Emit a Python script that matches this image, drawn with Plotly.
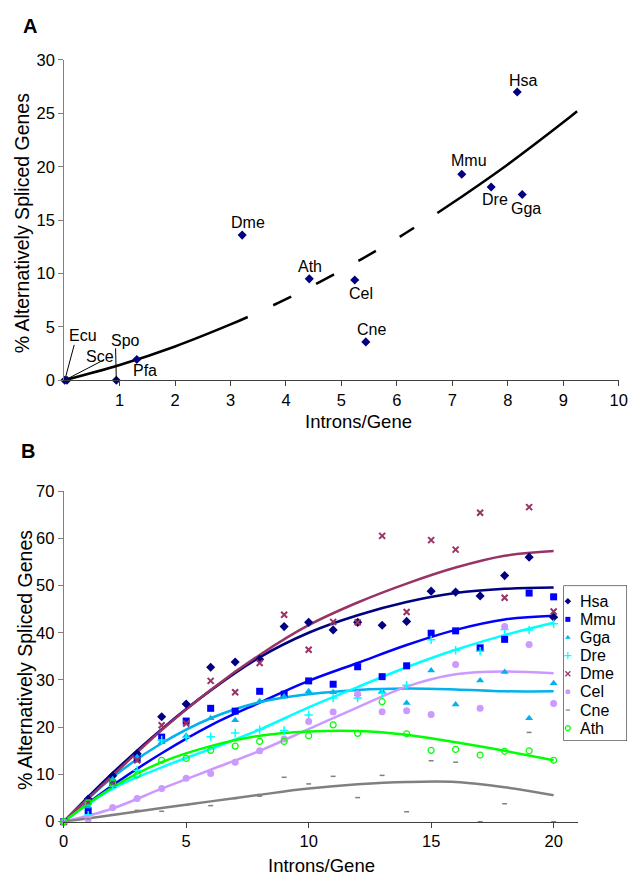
import plotly.graph_objects as go

# ---------------- Panel A: species scatter ----------------
species = ["Hsa", "Mmu", "Dre", "Gga", "Dme", "Ath", "Cel", "Cne", "Pfa", "Spo", "Sce", "Ecu"]
introns_per_gene = [8.17, 7.17, 7.70, 8.26, 3.21, 4.42, 5.24, 5.44, 1.31, 0.94, 0.05, 0.01]
pct_alt_spliced = [27.0, 19.3, 18.1, 17.4, 13.6, 9.5, 9.4, 3.6, 1.95, 0.0, 0.0, 0.0]

# trend curve of panel A, split into solid / dashed / solid parts
trend_a_solid1_x = [0, 1, 2, 3, 3.31]
trend_a_solid1_y = [0, 1.43, 3.17, 5.23, 5.93]
trend_a_dash_x = [3.77, 4, 5, 6, 6.31]
trend_a_dash_y = [7.03, 7.60, 10.29, 13.28, 14.28]
trend_a_solid2_x = [6.73, 7, 8, 9, 9.25]
trend_a_solid2_y = [15.67, 16.60, 20.22, 24.16, 25.2]

# ---------------- Panel B: by intron count ----------------
intron_count = list(range(21))
hsa = [0, 4.8, 9.7, 14.4, 22.2, 24.9, 32.7, 33.8, 34.4, 41.3, 42.2, 40.6, 42.2, 41.6, 42.4, 48.8, 48.6, 47.8, 52.1, 56.0, 43.3]
mmu = [0, 2.3, 8.0, 13.3, 17.9, 21.3, 24.0, 23.4, 27.6, 27.0, 29.8, 29.1, 32.8, 30.7, 33.0, 39.9, 40.4, 36.8, 38.6, 48.4, 47.6]
gga = [0, 3.2, 9.0, 13.7, 16.8, 18.2, 21.9, 21.5, 25.5, 26.5, 27.6, 27.4, 27.0, 27.6, 25.1, 32.0, 24.8, 29.9, 31.7, 21.9, 29.3]
dre = [0, 1.4, 7.5, 10.9, 17.3, 17.8, 18.0, 18.8, 19.5, 19.3, 22.6, 26.2, 26.2, 27.2, 28.9, 38.5, 36.3, 36.1, 40.7, 40.6, 41.9]
dme = [0, 4.2, 8.2, 13.0, 20.4, 20.8, 29.8, 27.4, 33.6, 43.8, 36.4, 42.3, 42.2, 60.5, 44.4, 59.6, 57.6, 65.4, 47.4, 66.6, 44.5]
cel = [0, 0.5, 3.0, 4.9, 7.0, 9.2, 10.2, 12.6, 15.0, 17.5, 21.2, 23.2, 27.1, 23.3, 23.5, 22.7, 33.3, 24.0, 41.3, 37.5, 25.0]
cne = [0, 0.6, 1.5, 2.4, 2.2, 3.5, 3.4, 4.9, 5.4, 9.4, 8.0, 9.6, 5.1, 9.8, 2.1, 12.9, 12.6, 0.0, 3.8, 18.9, 0.0]
ath = [0, 4.0, 8.2, 9.9, 13.0, 13.4, 15.1, 16.0, 17.0, 17.0, 18.2, 20.5, 18.7, 25.4, 18.6, 15.1, 15.3, 14.1, 14.9, 15.0, 13.0]

# trend curves of panel B
trend_x = [0, 2, 4, 6, 8, 10, 12, 14, 16, 18, 20]
hsa_fit = [0, 10.3, 19.6, 27.8, 34.8, 40.0, 43.7, 46.5, 48.4, 49.3, 49.6]
mmu_fit = [0, 7.7, 14.5, 20.4, 25.2, 29.8, 33.6, 37.4, 40.6, 42.8, 43.6]
gga_fit = [0, 9.4, 16.6, 21.9, 25.3, 27.0, 27.9, 28.2, 28.0, 27.6, 27.6]
dre_fit = [0, 7.0, 11.5, 15.4, 19.5, 24.2, 28.5, 32.7, 36.4, 39.5, 42.1]
dme_fit = [0, 9.8, 19.4, 27.9, 35.3, 41.6, 46.4, 50.4, 53.8, 56.3, 57.3]
cel_fit = [0, 2.8, 7.0, 11.0, 15.0, 19.6, 24.2, 28.6, 31.2, 31.8, 31.4]
cne_fit = [0, 1.4, 2.9, 4.3, 5.7, 7.0, 7.9, 8.4, 8.4, 7.3, 5.6]
ath_fit = [0, 7.3, 12.6, 16.0, 18.2, 19.1, 19.2, 18.4, 16.8, 15.0, 13.0]

series_names = ["Hsa", "Mmu", "Gga", "Dre", "Dme", "Cel", "Cne", "Ath"]
series_values = [hsa, mmu, gga, dre, dme, cel, cne, ath]
series_fits = [hsa_fit, mmu_fit, gga_fit, dre_fit, dme_fit, cel_fit, cne_fit, ath_fit]

# ---------------- styling ----------------
W, H = 637, 888
FONT = "Liberation Sans, Arial, Helvetica, sans-serif"
colors = ["#000080", "#0000FF", "#00B2EE", "#00FFFF", "#993366", "#CC99FF", "#808080", "#00FF00"]
symbols = ["diamond", "square", "triangle-up", "cross-thin-open", "x-thin-open",
           "circle", "line-ew-open", "circle-open"]
sizes = [7, 7, 7, 6, 6, 7, 3.5, 6]
marker_lw = [0, 0, 0, 1.5, 2, 0, 1.5, 1.2]


def dom_x(left, right):
    return [left / W, right / W]


def dom_y(top, bottom):
    return [1 - bottom / H, 1 - top / H]


fig = go.Figure()

# ---- panel A ----
line_a = dict(color="black", width=2.5, shape="spline")
fig.add_trace(go.Scatter(x=trend_a_solid1_x, y=trend_a_solid1_y, mode="lines", line=line_a,
                         xaxis="x", yaxis="y", showlegend=False, hoverinfo="skip"))
fig.add_trace(go.Scatter(x=trend_a_dash_x, y=trend_a_dash_y, mode="lines",
                         line=dict(color="black", width=2.5, shape="spline", dash="20px,28px"),
                         xaxis="x", yaxis="y", showlegend=False, hoverinfo="skip"))
fig.add_trace(go.Scatter(x=trend_a_solid2_x, y=trend_a_solid2_y, mode="lines", line=line_a,
                         xaxis="x", yaxis="y", showlegend=False, hoverinfo="skip"))
fig.add_trace(go.Scatter(x=introns_per_gene, y=pct_alt_spliced, mode="markers",
                         marker=dict(symbol="diamond", size=7, color="#000080"),
                         cliponaxis=False, xaxis="x", yaxis="y", showlegend=False,
                         text=species))

# ---- panel B: trend lines then markers ----
for name, fit, c in zip(series_names, series_fits, colors):
    fig.add_trace(go.Scatter(x=trend_x, y=fit, mode="lines",
                             line=dict(color=c, width=2.5, shape="spline", smoothing=1.0),
                             xaxis="x2", yaxis="y2", showlegend=False, hoverinfo="skip"))
for name, vals, c, s, sz, lw in zip(series_names, series_values, colors, symbols, sizes, marker_lw):
    fig.add_trace(go.Scatter(x=intron_count, y=vals, mode="markers", name=name,
                             marker=dict(symbol=s, size=sz, color=c, line=dict(color=c, width=lw)),
                             cliponaxis=False, xaxis="x2", yaxis="y2", showlegend=False))

# ---- legend box (own small axis in pixel units) ----
leg_left, leg_right, leg_top, leg_bottom = 571, 636, 588.5, 747
leg_first, leg_step = 604.5, 18.5
leg_y = [leg_first + i * leg_step for i in range(len(series_names))]
for i, (name, c, s, lw) in enumerate(zip(series_names, colors, symbols, marker_lw)):
    fig.add_trace(go.Scatter(x=[575.5], y=[leg_y[i]], mode="markers",
                             marker=dict(symbol=s, size=5 if s != "line-ew-open" else 3, color=c,
                                         line=dict(color=c, width=min(lw, 1.2))),
                             cliponaxis=False, xaxis="x3", yaxis="y3", showlegend=False,
                             hoverinfo="skip"))

annotations = []
for i, name in enumerate(series_names):
    annotations.append(dict(x=585.5, y=leg_y[i], xref="x3", yref="y3", text=name, showarrow=False,
                            xanchor="left", yanchor="middle",
                            font=dict(family=FONT, size=16, color="black")))

# ---- point labels of panel A (pixel offsets from each point) ----
label_shift = {
    "Hsa": (6, 11), "Mmu": (7, 14), "Dre": (4, -12), "Gga": (4, -14), "Dme": (6, 13),
    "Ath": (1, 12), "Cel": (6, -14), "Cne": (6, 12), "Pfa": (8, -11), "Spo": (9, 40),
    "Sce": (33, 24), "Ecu": (18, 45),
}
for sp, xv, yv in zip(species, introns_per_gene, pct_alt_spliced):
    dx, dy = label_shift[sp]
    annotations.append(dict(x=xv, y=yv, xref="x", yref="y", text=sp, showarrow=False,
                            xshift=dx, yshift=dy, xanchor="center", yanchor="middle",
                            font=dict(family=FONT, size=16, color="black")))

# leader lines for the crowded labels near the origin
leaders = {"Ecu": (0, 0, 9.5, 35.5), "Sce": (0.5, 1.5, 37, 20.5), "Spo": (0, 0, -0.7, 32)}
shapes = []
for sp, (px0, py0, px1, py1) in leaders.items():
    k = species.index(sp)
    shapes.append(dict(type="line", xref="x", yref="y", xsizemode="pixel", ysizemode="pixel",
                       xanchor=introns_per_gene[k], yanchor=pct_alt_spliced[k],
                       x0=px0, y0=py0, x1=px1, y1=py1, line=dict(color="black", width=1)))

shapes.append(dict(type="rect", xref="x3", yref="y3", x0=leg_left, x1=leg_right,
                   y0=leg_top, y1=leg_bottom, line=dict(color="black", width=1),
                   fillcolor="rgba(0,0,0,0)", layer="below"))

# panel letters and axis titles
annotations += [
    dict(x=25.5 / W, y=1 - 17.5 / H, xref="paper", yref="paper", text="<b>A</b>", showarrow=False,
         xanchor="center", yanchor="middle", font=dict(family=FONT, size=20, color="black")),
    dict(x=24 / W, y=1 - 451 / H, xref="paper", yref="paper", text="<b>B</b>", showarrow=False,
         xanchor="center", yanchor="middle", font=dict(family=FONT, size=20, color="black")),
    dict(x=17 / W, y=1 - 219 / H, xref="paper", yref="paper", text="% Alternatively Spliced Genes",
         showarrow=False, textangle=-90, xanchor="center", yanchor="middle",
         font=dict(family=FONT, size=19.5, color="black")),
    dict(x=361.5 / W, y=1 - 421 / H, xref="paper", yref="paper", text="Introns/Gene",
         showarrow=False, xanchor="center", yanchor="middle",
         font=dict(family=FONT, size=18.5, color="black")),
    dict(x=20 / W, y=1 - 665 / H, xref="paper", yref="paper", text="% Alternatively Spliced Genes",
         showarrow=False, textangle=-90, xanchor="center", yanchor="middle",
         font=dict(family=FONT, size=19.5, color="black")),
    dict(x=323.5 / W, y=1 - 874 / H, xref="paper", yref="paper", text="Introns/Gene",
         showarrow=False, xanchor="center", yanchor="middle",
         font=dict(family=FONT, size=18.5, color="black")),
]

tickfont = dict(family=FONT, size=16.5, color="black")
common = dict(showgrid=False, zeroline=False, showline=True, linewidth=1, ticks="outside",
              ticklen=5, tickwidth=1, tickfont=tickfont, fixedrange=True)

fig.update_layout(
    width=W, height=H, margin=dict(l=0, r=0, t=0, b=0),
    paper_bgcolor="white", plot_bgcolor="white", showlegend=False,
    font=dict(family=FONT, color="black"),
    xaxis=dict(domain=dom_x(60.5, 627.5), range=[0, 10], anchor="y",
               tickvals=list(range(1, 11)), linecolor="#404040", tickcolor="#404040", **common),
    yaxis=dict(domain=dom_y(52, 379), range=[0, 30], anchor="x",
               tickvals=list(range(0, 31, 5)), linecolor="#808080", tickcolor="#808080", **common),
    xaxis2=dict(domain=dom_x(60, 586), range=[0, 21], anchor="y2",
                tickvals=[0, 5, 10, 15, 20], linecolor="#404040", tickcolor="#404040", **common),
    yaxis2=dict(domain=dom_y(492, 829.5), range=[0, 70], anchor="x2",
                tickvals=list(range(0, 71, 10)), linecolor="#808080", tickcolor="#808080", **common),
    xaxis3=dict(domain=dom_x(leg_left, leg_right), range=[leg_left, leg_right], anchor="y3",
                visible=False, fixedrange=True),
    yaxis3=dict(domain=dom_y(leg_top, leg_bottom), range=[leg_bottom, leg_top], anchor="x3",
                visible=False, fixedrange=True),
    annotations=annotations,
    shapes=shapes,
)

fig.write_html("out.html")
